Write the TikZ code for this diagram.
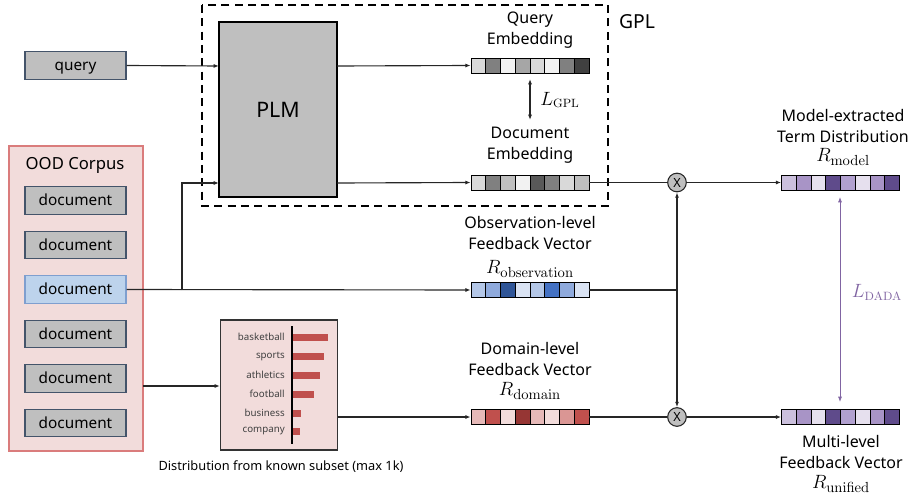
\documentclass[tikz,border=0pt]{standalone}
\usepackage[no-math]{fontspec}
\setmainfont{Noto Sans}
\usetikzlibrary{arrows.meta,calc}
\definecolor{lineC}{HTML}{262626}
\definecolor{grayF}{HTML}{BFBFBF}
\definecolor{slate}{HTML}{44546A}
\definecolor{blueF}{HTML}{BDD3EC}
\definecolor{blueB}{HTML}{7F9FCF}
\definecolor{pinkF}{HTML}{F2DCDB}
\definecolor{pinkB}{HTML}{DA7C7C}
\definecolor{barC}{HTML}{C0504D}
\definecolor{purp}{HTML}{8064A2}
\newcommand{\vecbar}[4]{%
  \node[vecnode] (#1) at (#2,#3) {};
  \foreach \c [count=\i from 0] in {#4} {%
    \definecolor{cc}{HTML}{\c}%
    \filldraw[fill=cc,draw=black,line width=0.6pt] ({#2-59+\i*14.75},{#3-7.5}) rectangle ++(14.75,15);
  }%
}
\tikzset{
  ln/.style={draw=lineC,line width=0.85pt},
  arr/.style={ln,-{Latex[length=4pt,width=3pt]}},
  darr/.style={ln,{Latex[length=4pt,width=3pt]}-{Latex[length=4pt,width=3pt]}},
  vecnode/.style={minimum width=88.5pt,minimum height=11.25pt,inner sep=0pt,draw=none},
  docbox/.style={draw=slate,fill=grayF,line width=0.8pt,minimum width=75.75pt,minimum height=20.5pt,inner sep=0pt,text height=1.5ex,text depth=0ex,font=\fontsize{11.5}{13}\selectfont},
  lbl/.style={align=center,inner sep=0pt,font=\fontsize{12}{15.75}\selectfont},
  mlbl/.style={inner sep=0pt,font=\fontsize{15}{17}\selectfont},
  barlbl/.style={anchor=east,inner sep=0pt,font=\fontsize{7.3}{9}\selectfont,text=black!75},
  mult/.style={circle,draw=lineC,fill=grayF,line width=0.8pt,minimum size=14pt,inner sep=0pt,font=\fontsize{9.5}{10}\selectfont},
}
\begin{document}
\begin{tikzpicture}[x=0.75pt,y=-0.75pt]
\useasboundingbox (0,0) rectangle (913,495);
% GPL dashed box
\draw[line width=1.1pt,dash pattern=on 6pt off 4pt] (202,5) rectangle (608,206);
\node[font=\fontsize{14.5}{16}\selectfont,inner sep=0pt] (gpl) at (637,22) {GPL};
% query and PLM
\node[docbox] (query) at (75.5,65.5) {query};
\node[draw=black,fill=grayF,line width=0.8pt,minimum width=88.5pt,minimum height=131.25pt,inner sep=0pt,font=\fontsize{16}{18}\selectfont] (plm) at (278,109.5) {PLM};
\coordinate (plmq) at (219,66);
\coordinate (plmd) at (219,183);
\coordinate (plmqo) at (337,66);
\coordinate (plmdo) at (337,183);
% OOD corpus
\node[draw=pinkB,fill=pinkF,line width=0.8pt,minimum width=100.5pt,minimum height=228.75pt,inner sep=0pt] (ood) at (76,298.5) {};
\node[font=\fontsize{12.5}{14}\selectfont,inner sep=0pt] (oodt) at (75,165) {OOD Corpus};
\node[docbox] (d1) at (75.5,200.5) {document};
\node[docbox] (d2) at (75.5,245) {document};
\node[docbox,fill=blueF,draw=blueB] (d3) at (75.5,289.5) {document};
\node[docbox] (d4) at (75.5,334) {document};
\node[docbox] (d5) at (75.5,378.5) {document};
\node[docbox] (d6) at (75.5,423) {document};
% distribution box
\node[draw=black!80,fill=pinkF,line width=0.8pt,minimum width=87.75pt,minimum height=97.5pt,inner sep=0pt] (dist) at (279,385) {};
\draw[line width=1.6pt] (292,326) -- (292,444);
\foreach \w/\y/\e in {basketball/337/328,sports/356/324,athletics/375/320,football/394/314,business/413/301,company/431/300}{
  \fill[barC] (293,\y-3.5) rectangle (\e,\y+3.5);
  \node[barlbl] at (285,\y) {\w};
}
\node[inner sep=0pt,font=\fontsize{9.6}{11}\selectfont] (distt) at (281,467) {Distribution from known subset (max 1k)};
% vectors
\vecbar{qv}{530}{65.5}{D9D9D9,808080,F2F2F2,A6A6A6,D9D9D9,F2F2F2,808080,404040}
\vecbar{dv}{530}{182.5}{D9D9D9,808080,BFBFBF,F2F2F2,595959,808080,D9D9D9,BFBFBF}
\vecbar{ov}{530}{290}{B4C7E7,8FAADC,2F5597,DAE3F3,B4C7E7,4472C4,8FAADC,DAE3F3}
\vecbar{rv}{530}{417}{E6B9B8,C0504D,F2DCDB,963634,E6B9B8,F2DCDB,DA9694,C0504D}
\vecbar{mv}{840.5}{182.5}{CBC0DD,A894C6,E6E0EE,5F4B8B,B1A0CF,E6E0EE,A894C6,5F4B8B}
\vecbar{uv}{840.5}{417}{CBC0DD,A894C6,E6E0EE,5F4B8B,B1A0CF,E6E0EE,A894C6,5F4B8B}
% labels
\node[lbl] (qt) at (530,30) {Query\\Embedding};
\node[lbl] (dt) at (530,145) {Document\\Embedding};
\node[lbl] (ot) at (530,233) {Observation-level\\Feedback Vector};
\node[mlbl] (or) at (530,269) {$R_{\mathrm{observation}}$};
\node[lbl] (rt) at (530,359) {Domain-level\\Feedback Vector};
\node[mlbl] (rr) at (530,391) {$R_{\mathrm{domain}}$};
\node[lbl] (mt) at (843,126) {Model-extracted\\Term Distribution};
\node[mlbl] (mr) at (843,157) {$R_{\mathrm{model}}$};
\node[lbl] (ut) at (841,452) {Multi-level\\Feedback Vector};
\node[mlbl] (ur) at (841,484) {$R_{\mathrm{unified}}$};
% loss arrows
\coordinate (g1) at (530,79);
\coordinate (g2) at (530,120);
\draw[darr] (g1) -- (g2);
\node[mlbl,font=\fontsize{13.5}{15}\selectfont] (lgpl) at (560,100) {$L_{\mathrm{GPL}}$};
\coordinate (p1) at (840,197);
\coordinate (p2) at (840,402);
\draw[darr,draw=purp,line width=0.6pt] (p1) -- (p2);
\node[mlbl,font=\fontsize{13.5}{15}\selectfont,text=purp] (ldada) at (877,292) {$L_{\mathrm{DADA}}$};
% multiply circles
\node[mult] (c1) at (677,182.5) {X};
\node[mult] (c2) at (677,417) {X};
% connectors
\draw[arr] (query.east) -- (plmq);
\draw[arr] (plmqo) -- (qv.west);
\draw[arr] (plmdo) -- (dv.west);
\coordinate (j2) at (182,290);
\draw[arr] (d3.east) -- (ov.west);
\draw[arr] (j2) |- (plmd);
\draw[ln] (dv.east) -- (c1.west);
\draw[arr] (c1.east) -- (mv.west);
\coordinate (j) at (677,290);
\draw[ln] (ov.east) -- (j);
\draw[arr] (j) -- (c1.south);
\draw[arr] (j) -- (c2.north);
\coordinate (oo) at (143,386);
\draw[arr] (oo) -- (dist.west |- oo);
\draw[arr] (dist.east |- rv.west) -- (rv.west);
\draw[ln] (rv.east) -- (c2.west);
\draw[arr] (c2.east) -- (uv.west);
\end{tikzpicture}
\end{document}
